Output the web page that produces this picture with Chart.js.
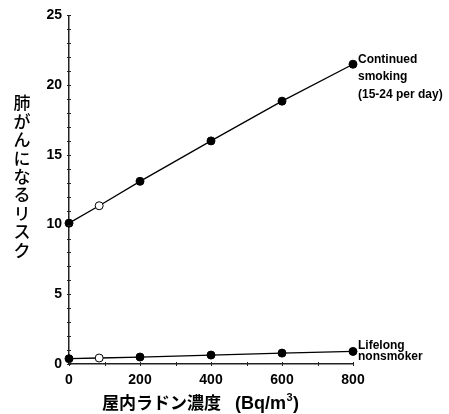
<!DOCTYPE html>
<html>
<head>
<meta charset="utf-8">
<script src="https://cdn.jsdelivr.net/npm/chart.js@4"></script>
<style>
  body { margin: 0; background: #fff; }
</style>
</head>
<body>
<canvas id="chart" width="449" height="414"></canvas>
<script>
// radon concentration (Bq/m3) and relative risk
const radon = [0, 85, 200, 400, 600, 800];
const smokerRisk = [10.1, 11.35, 13.1, 16.0, 18.85, 21.5];
const nonsmokerRisk = [0.38, 0.43, 0.5, 0.64, 0.78, 0.9];
const openPointRadon = 85;

const smokerLabel = ['Continued', 'smoking', '(15-24 per day)'];
const nonsmokerLabel = ['Lifelong', 'nonsmoker'];
const yTitle = '肺がんになるリスク';
const xTitle = '屋内ラドン濃度';
const xUnit = ['(Bq/m', '3', ')'];

const xTicks = [0, 200, 400, 600, 800];
const yTicks = [0, 5, 10, 15, 20, 25];

const toPoints = (ys) => radon.map((x, i) => ({ x: x, y: ys[i] }));
const fill = (ctx) => (ctx.raw && ctx.raw.x === openPointRadon ? '#fff' : '#000');

const extras = {
    id: 'extras',
    afterDraw(chart) {
        const c = chart.ctx;
        const xs = chart.scales.x, ys = chart.scales.y;
        c.save();
        c.strokeStyle = '#222';
        c.lineWidth = 1;
        // minor ticks, every 1 on y and every 100 on x
        for (let v = 0; v <= 25; v++) {
            const py = Math.round(ys.getPixelForValue(v)) + 0.5;
            c.beginPath(); c.moveTo(xs.left - 2, py); c.lineTo(xs.left + 2, py); c.stroke();
        }
        for (let v = 0; v <= 800; v += 100) {
            const px = Math.round(xs.getPixelForValue(v)) + 0.5;
            c.beginPath(); c.moveTo(px, ys.bottom - 2); c.lineTo(px, ys.bottom + 2); c.stroke();
        }

        // series labels next to the last point
        c.fillStyle = '#000';
        c.font = 'bold 12px "Liberation Sans", Arial, sans-serif';
        c.textAlign = 'left';
        c.textBaseline = 'middle';
        const n = radon.length - 1;
        const lx = xs.getPixelForValue(radon[n]) + 5;
        let ly = ys.getPixelForValue(smokerRisk[n]);
        [-5, 12, 30].forEach((d, i) => c.fillText(smokerLabel[i], lx, ly + d));
        ly = ys.getPixelForValue(nonsmokerRisk[n]);
        [-6, 5].forEach((d, i) => c.fillText(nonsmokerLabel[i], lx, ly + d));

        // vertical y title
        c.font = '500 17px "Noto Sans CJK JP", sans-serif';
        c.textAlign = 'center';
        [...yTitle].forEach((ch, i) => c.fillText(ch, 22, 103 + i * 18.4));

        // x title
        c.textAlign = 'left';
        c.font = 'bold 17px "Noto Sans CJK JP", sans-serif';
        c.fillText(xTitle, 102, 403);
        c.font = 'bold 18px "Liberation Sans", Arial, sans-serif';
        let tx = 235;
        c.fillText(xUnit[0], tx, 404);
        tx += c.measureText(xUnit[0]).width + 0.5;
        c.font = 'bold 11px "Liberation Sans", Arial, sans-serif';
        c.fillText(xUnit[1], tx, 398);
        tx += c.measureText(xUnit[1]).width + 0.5;
        c.font = 'bold 18px "Liberation Sans", Arial, sans-serif';
        c.fillText(xUnit[2], tx, 404);
        c.restore();
    }
};

const lineStyle = {
    borderColor: '#000',
    borderWidth: 1.3,
    pointRadius: 4,
    pointHoverRadius: 4,
    pointBorderColor: '#000',
    pointBorderWidth: 1,
    pointBackgroundColor: fill,
    tension: 0,
    clip: false
};

const tickFont = { family: '"Liberation Sans", Arial, sans-serif', size: 14, weight: 'bold' };

new Chart(document.getElementById('chart').getContext('2d'), {
    type: 'line',
    data: {
        datasets: [
            Object.assign({ label: 'smoker', data: toPoints(smokerRisk) }, lineStyle),
            Object.assign({ label: 'nonsmoker', data: toPoints(nonsmokerRisk) }, lineStyle)
        ]
    },
    options: {
        responsive: false,
        animation: false,
        layout: { padding: { left: 0, right: 96, top: 12, bottom: 0 } },
        scales: {
            x: {
                type: 'linear',
                min: 0,
                max: 800,
                afterBuildTicks: (s) => { s.ticks = xTicks.map(v => ({ value: v })); },
                afterFit: (s) => { s.height = 50; },
                grid: { display: false, drawTicks: false, tickLength: 0 },
                border: { color: '#222', width: 1.5 },
                ticks: { color: '#000', padding: 8, maxRotation: 0, font: tickFont }
            },
            y: {
                min: 0,
                max: 25,
                afterBuildTicks: (s) => { s.ticks = yTicks.map(v => ({ value: v })); },
                afterFit: (s) => { s.width = 69; },
                grid: { display: false, drawTicks: false, tickLength: 0 },
                border: { color: '#222', width: 1.5 },
                ticks: { color: '#000', padding: 7, font: tickFont }
            }
        },
        plugins: { legend: { display: false }, tooltip: { enabled: false } }
    },
    plugins: [extras]
});
</script>
</body>
</html>
